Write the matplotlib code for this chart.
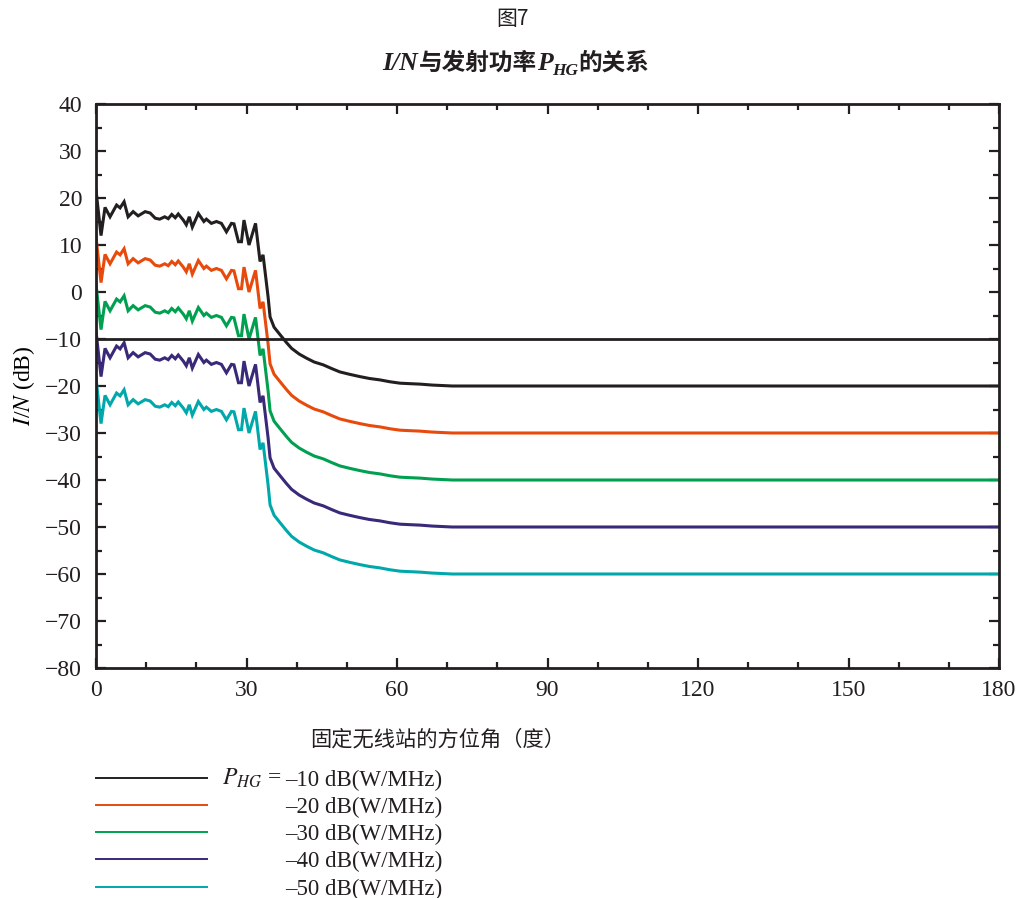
import matplotlib
matplotlib.use("Agg")
import matplotlib.pyplot as plt
from matplotlib.ticker import MultipleLocator
from matplotlib.lines import Line2D

plt.rcParams['mathtext.fontset'] = 'stix'
plt.rcParams['font.family'] = ['Liberation Serif', 'Noto Sans CJK SC']

# ---------------- data ----------------
angles = [0, 1, 1.8, 2.8, 4.1, 4.8, 5.6, 6.4, 7.4, 8.4,
          9.8, 10.8, 11.8, 12.7, 13.7, 14.4, 15.1, 15.8, 16.4, 17.4,
          18, 18.6, 19.2, 20.4, 21.5, 22, 23, 24, 25, 26,
          27, 27.5, 28.4, 29, 29.5, 30.5, 31.8, 32.7, 33.3, 34.3,
          34.7, 35.5, 36.7, 38, 39, 40.5, 42, 43.5, 45.3, 47,
          48.6, 50.5, 52.6, 54.5, 56.6, 58.6, 60.6, 62.5, 64.6, 67,
          71, 180]

in_m10 = [21.7, 12.0, 18.0, 16.0, 18.5, 17.9, 19.2, 16.0, 17.1, 16.2,
          17.1, 16.8, 15.7, 15.5, 16.0, 15.6, 16.5, 15.8, 16.6, 15.3,
          14.3, 16.0, 13.8, 16.7, 15.0, 15.5, 14.6, 15.0, 14.6, 12.8,
          14.6, 14.5, 10.7, 10.7, 15.3, 10.0, 14.6, 6.5, 7.9, -1.0,
          -5.3, -7.5, -9.1, -10.8, -12.0, -13.2, -14.1, -14.9, -15.5, -16.3,
          -17.0, -17.5, -18.0, -18.4, -18.7, -19.1, -19.4, -19.5, -19.6, -19.8,
          -20.0, -20.0]
in_m20 = [11.7, 2.0, 8.0, 6.0, 8.5, 7.9, 9.2, 6.0, 7.1, 6.2,
          7.1, 6.8, 5.7, 5.5, 6.0, 5.6, 6.5, 5.8, 6.6, 5.3,
          4.3, 6.0, 3.8, 6.7, 5.0, 5.5, 4.6, 5.0, 4.6, 2.8,
          4.6, 4.5, 0.7, 0.7, 5.3, 0.0, 4.6, -3.5, -2.1, -11.0,
          -15.3, -17.5, -19.1, -20.8, -22.0, -23.2, -24.1, -24.9, -25.5, -26.3,
          -27.0, -27.5, -28.0, -28.4, -28.7, -29.1, -29.4, -29.5, -29.6, -29.8,
          -30.0, -30.0]
in_m30 = [1.7, -8.0, -2.0, -4.0, -1.5, -2.1, -0.8, -4.0, -2.9, -3.8,
          -2.9, -3.2, -4.3, -4.5, -4.0, -4.4, -3.5, -4.2, -3.4, -4.7,
          -5.7, -4.0, -6.2, -3.3, -5.0, -4.5, -5.4, -5.0, -5.4, -7.2,
          -5.4, -5.5, -9.3, -9.3, -4.7, -10.0, -5.4, -13.5, -12.1, -21.0,
          -25.3, -27.5, -29.1, -30.8, -32.0, -33.2, -34.1, -34.9, -35.5, -36.3,
          -37.0, -37.5, -38.0, -38.4, -38.7, -39.1, -39.4, -39.5, -39.6, -39.8,
          -40.0, -40.0]
in_m40 = [-8.3, -18.0, -12.0, -14.0, -11.5, -12.1, -10.8, -14.0, -12.9, -13.8,
          -12.9, -13.2, -14.3, -14.5, -14.0, -14.4, -13.5, -14.2, -13.4, -14.7,
          -15.7, -14.0, -16.2, -13.3, -15.0, -14.5, -15.4, -15.0, -15.4, -17.2,
          -15.4, -15.5, -19.3, -19.3, -14.7, -20.0, -15.4, -23.5, -22.1, -31.0,
          -35.3, -37.5, -39.1, -40.8, -42.0, -43.2, -44.1, -44.9, -45.5, -46.3,
          -47.0, -47.5, -48.0, -48.4, -48.7, -49.1, -49.4, -49.5, -49.6, -49.8,
          -50.0, -50.0]
in_m50 = [-18.3, -28.0, -22.0, -24.0, -21.5, -22.1, -20.8, -24.0, -22.9, -23.8,
          -22.9, -23.2, -24.3, -24.5, -24.0, -24.4, -23.5, -24.2, -23.4, -24.7,
          -25.7, -24.0, -26.2, -23.3, -25.0, -24.5, -25.4, -25.0, -25.4, -27.2,
          -25.4, -25.5, -29.3, -29.3, -24.7, -30.0, -25.4, -33.5, -32.1, -41.0,
          -45.3, -47.5, -49.1, -50.8, -52.0, -53.2, -54.1, -54.9, -55.5, -56.3,
          -57.0, -57.5, -58.0, -58.4, -58.7, -59.1, -59.4, -59.5, -59.6, -59.8,
          -60.0, -60.0]

threshold = -10
series_labels = ['–10 dB(W/MHz)', '–20 dB(W/MHz)', '–30 dB(W/MHz)',
                 '–40 dB(W/MHz)', '–50 dB(W/MHz)']
colors = ['#231f20', '#e84a0c', '#00a050', '#3a2878', '#00a8ac']
xticks = [0, 30, 60, 90, 120, 150, 180]
yticks = list(range(-80, 41, 10))

# ---------------- figure ----------------
fig = plt.figure(figsize=(10.23, 8.98), dpi=100)
ax = fig.add_axes([96/1023, 1-668/898, (999-96)/1023, (668-104)/898])

series = [in_m10, in_m20, in_m30, in_m40, in_m50]
for vals, c in zip(series, colors):
    ax.plot(angles, vals, color=c, lw=2.2, solid_joinstyle='miter')
ax.axhline(threshold, color='#231f20', lw=2.0)

ax.set_xlim(0, 180)
ax.set_ylim(-80, 40)
ax.set_xticks(xticks)
ax.set_yticks(yticks)
ax.xaxis.set_minor_locator(MultipleLocator(10))
ax.yaxis.set_minor_locator(MultipleLocator(5))
ax.tick_params(which='both', direction='in', top=True, right=True,
               width=1.6, labelsize=17, color='#231f20', labelcolor='#231f20')
ax.tick_params(which='major', length=7)
ax.tick_params(axis='y', which='major', pad=10)
ax.tick_params(axis='x', which='major', pad=9)
ax.tick_params(which='minor', length=4)
for s in ax.spines.values():
    s.set_linewidth(2.0)
    s.set_color('#231f20')

ax.set_ylabel(r'$I$/$N$ (dB)', fontsize=17, labelpad=6)

fig.text(438/1023, 1-740/898, '固定无线站的方位角（度）', ha='center', va='center',
         fontsize=15.3, family=['Noto Sans CJK SC'], color='#231f20')

fig.text(512/1023, 1-19/898, '图7', ha='center', va='center',
         fontsize=15, family=['Noto Sans CJK SC', 'Liberation Serif'], color='#231f20')

# bold title composed from pieces
fig.canvas.draw()
renderer = fig.canvas.get_renderer()
serif_bi = dict(family=['Liberation Serif'], weight='bold', style='italic')
cjk_b = dict(family=['Noto Sans CJK SC'], weight='bold')
pieces = [('I/N', serif_bi, 18.5, 0), ('与发射功率', cjk_b, 17, 0),
          ('P', serif_bi, 18.5, 0), ('HG', serif_bi, 12.5, -5),
          ('的关系', cjk_b, 17, 0)]
ty = 62
texts = []
widths = []
for s, props, fs, dy in pieces:
    t = fig.text(0, 0, s, fontsize=fs, va='baseline', ha='left', color='#231f20', **props)
    bb = t.get_window_extent(renderer)
    texts.append((t, dy))
    widths.append(bb.width)
total = sum(widths)
x0 = 516 - total/2
base_y = 898 - ty - 8
for (t, dy), w in zip(texts, widths):
    t.set_position((x0/1023, (base_y + dy)/898))
    x0 += w

# legend
handles = [Line2D([], [], color=c, lw=1.4) for c in colors]
leg = fig.legend(handles, series_labels, loc='upper left',
                 bbox_to_anchor=(96/1023, 1-770/898), frameon=False,
                 fontsize=16.5, handlelength=4.85, handletextpad=3.4,
                 labelspacing=0.26, borderpad=0, borderaxespad=0)
for txt in leg.get_texts():
    txt.set_color('#231f20')
fig.text(283/1023, 1-778/898, r'$P_{HG}$ = ', ha='right', va='center',
         fontsize=17, color='#231f20')

fig.savefig('out.png', dpi=100)
